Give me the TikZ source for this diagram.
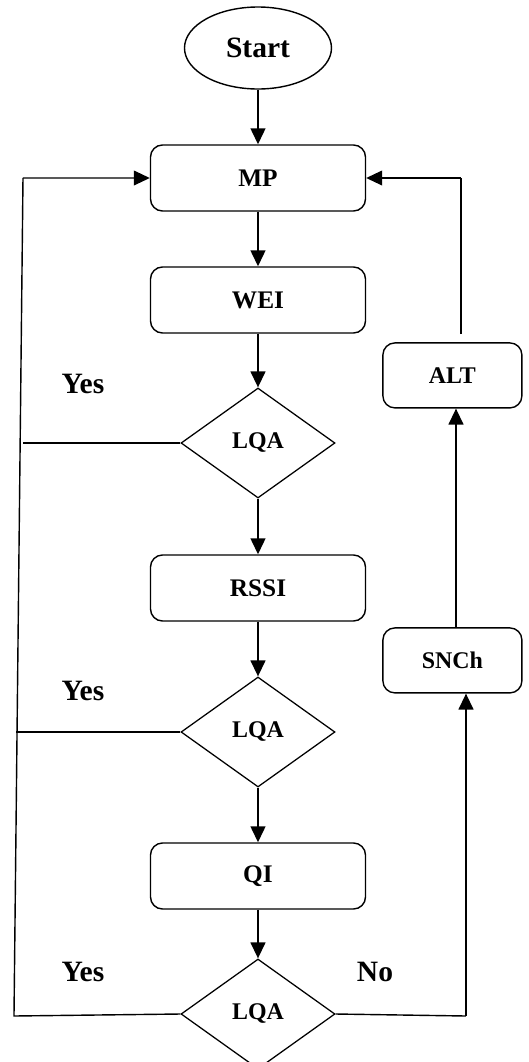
\documentclass[tikz,border=0pt]{standalone}
\usepackage{fontspec}
\setmainfont{Liberation Serif}
\usetikzlibrary{shapes.geometric, positioning, arrows.meta}

\begin{document}
\begin{tikzpicture}[
    on grid,
    node distance=3.6cm,
    stepbox/.style={draw=black, line width=1pt, rounded corners=0.3cm, minimum width=5.375cm, minimum height=1.65cm, font=\bfseries\fontsize{18}{20}\selectfont},
    sidebox/.style={stepbox, minimum width=3.475cm, minimum height=1.625cm, font=\bfseries\fontsize{17}{19}\selectfont},
    test/.style={diamond, draw=black, line width=0.9pt, minimum width=3.85cm, minimum height=2.75cm, inner sep=0pt, font=\bfseries\fontsize{17}{19}\selectfont},
    answer/.style={font=\bfseries\fontsize{21}{24}\selectfont},
    flow/.style={line width=1.4pt, -{Triangle[length=0.4cm, width=0.37cm]}},
    back/.style={line width=1pt}
]
   \useasboundingbox (-6.45,1.2) rectangle (6.775,-25.35);

   % Steps
   \node[ellipse, draw=black, line width=1pt, minimum width=3.675cm, minimum height=2.05cm, font=\bfseries\fontsize{21}{24}\selectfont] (Start) at (0,0) {Start};
   \node[stepbox] (MP) [below=3.25cm of Start] {MP};
   \node[stepbox] (WEI) [below=3.05cm of MP] {WEI};
   \node[test] (LQA1) [below=3.575cm of WEI] {LQA};
   \node[stepbox] (RSSI) [below=3.625cm of LQA1] {RSSI};
   \node[test] (LQA2) [below=of RSSI] {LQA};
   \node[stepbox] (QI) [below=of LQA2] {QI};
   \node[test] (LQA3) [below=3.45cm of QI] {LQA};

   \node[sidebox] (ALT) [right=4.86cm of LQA1, yshift=1.69cm] {ALT};
   \node[sidebox] (SNCh) [right=4.86cm of LQA2, yshift=1.79cm] {SNCh};

   % Answers
   \node[answer] (Y1) [above left=1.475cm and 4.375cm of LQA1] {Yes};
   \node[answer] (Y2) [above left=1.025cm and 4.375cm of LQA2] {Yes};
   \node[answer] (Y3) [above left=1.05cm and 4.375cm of LQA3] {Yes};
   \node[answer] (N3) [above right=1.05cm and 2.925cm of LQA3] {No};

   \coordinate (lowleft) at (-6.1,-24.2);
   \coordinate (upleft) at (-5.875,-3.25);
   \coordinate (lowright) at (5.2,-24.2);

   % Flow
   \path[flow]
   (Start) edge (MP)
   (MP) edge (WEI)
   (WEI) edge (LQA1)
   (LQA1) edge (RSSI)
   (RSSI) edge (LQA2)
   (LQA2) edge (QI)
   (QI) edge (LQA3);

   % Loops back to MP
   \draw[back] (LQA3.west) -- (lowleft) -- (upleft);
   \draw[flow, line width=1pt] (upleft) -- (MP.west);
   \draw[back] (LQA1.west) -- (LQA1.west -| upleft);
   \draw[back] (LQA2.west) -- ++(-4.1,0);
   \draw[back] (LQA3.east) -- (lowright);
   \draw[flow] (lowright) -- (lowright |- SNCh.south);
   \draw[flow] ([xshift=0.09cm]SNCh.north) -- ([xshift=0.09cm]ALT.south);
   \draw[back] ([xshift=0.21cm, yshift=0.2cm]ALT.north) -- ([xshift=0.21cm]ALT.north |- MP.east);
   \draw[flow, line width=1pt] ([xshift=0.21cm]ALT.north |- MP.east) -- (MP.east);

\end{tikzpicture}
\end{document}
